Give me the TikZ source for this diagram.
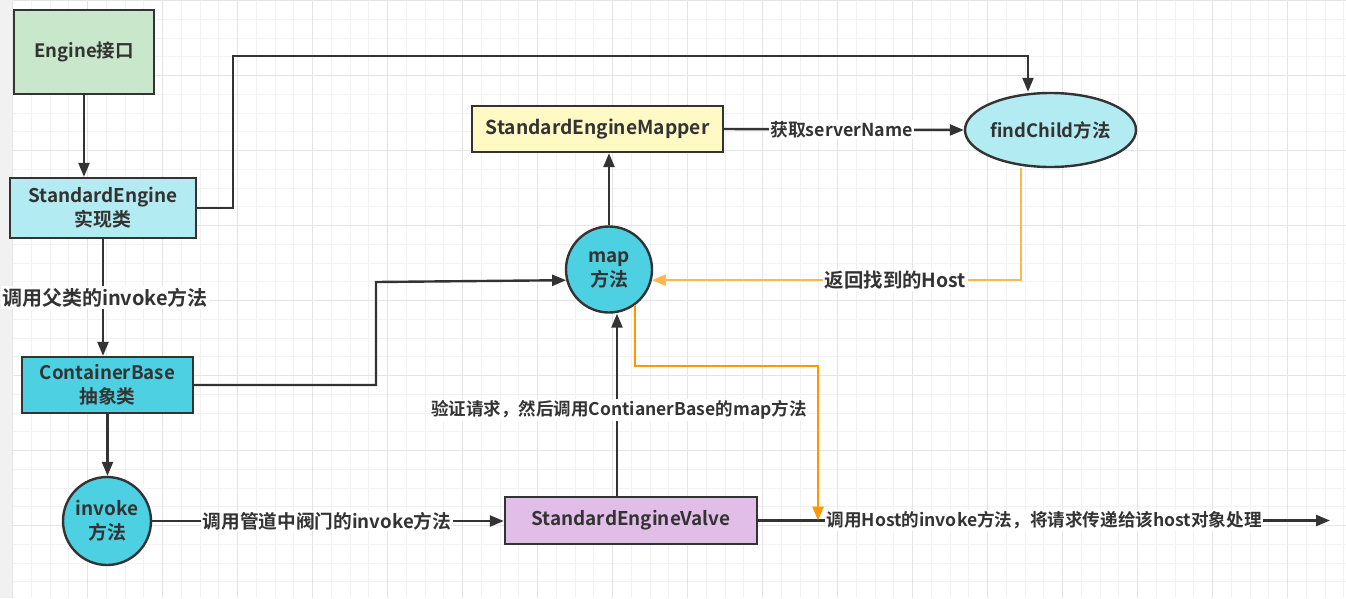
\documentclass[tikz,border=0pt]{standalone}
\usepackage{fontspec}
\setmainfont{Noto Sans CJK SC}[BoldFont={* Bold}]
\usetikzlibrary{arrows.meta,shapes.geometric}

\definecolor{ink}{HTML}{333333}
\definecolor{gridminor}{HTML}{F2F2F2}
\definecolor{gridmajor}{HTML}{E4E4E4}
\definecolor{gridstrip}{HTML}{F1F1F1}
\definecolor{engfill}{HTML}{C9E7CA}
\definecolor{lightcyan}{HTML}{B2EBF2}
\definecolor{darkcyan}{HTML}{4DD0E1}
\definecolor{valvefill}{HTML}{E1BEE7}
\definecolor{mapperfill}{HTML}{FFF9C4}
\definecolor{hostorange}{HTML}{FF9800}
\definecolor{backorange}{HTML}{FFB74D}

\newcommand\fsz[1]{\bfseries\fontsize{#1}{24}\selectfont}

\tikzset{
  box/.style={draw=ink, line width=2.4pt, text=ink, align=center, inner sep=0pt,
    font=\fsz{18.9}},
  roundbox/.style={box, circle, minimum size=88pt},
  link/.style={draw=ink, line width=2.4pt, -{Triangle[length=14pt,width=11pt]}},
  backlink/.style={link, draw=backorange, -{Triangle[length=14pt,width=11pt,fill=backorange]}},
  hostlink/.style={link, draw=hostorange, -{Triangle[length=14pt,width=11pt,fill=hostorange]}},
  lbl/.style={fill=white, text=ink, inner sep=1.5pt, font=\fsz{17.6}},
}

\begin{document}
\begin{tikzpicture}[x=1pt,y=1pt,yscale=-1,xscale=1]
\useasboundingbox (0,0) rectangle (1346,598);

%background grid
\fill[white] (0,0) rectangle (1346,598);
\fill[gridstrip] (0,0) rectangle (12.7,598);
\foreach \i in {0,...,71} {\draw[gridminor, line width=1pt] ({12.7+18.75*\i},0) -- ({12.7+18.75*\i},598);}
\foreach \j in {0,...,31} {\draw[gridminor, line width=1pt] (12.7,{0.5+18.75*\j}) -- (1346,{0.5+18.75*\j});}
\foreach \i in {0,...,17} {\draw[gridmajor, line width=1pt] ({12.7+75*\i},0) -- ({12.7+75*\i},598);}
\foreach \j in {0,...,7} {\draw[gridmajor, line width=1pt] (12.7,{0.5+75*\j}) -- (1346,{0.5+75*\j});}

%nodes
\node[box, fill=engfill, minimum width=140pt, minimum height=84pt, font=\fsz{18.5}] (engine) at (84,52) {Engine接口};
\node[box, fill=lightcyan, minimum width=186pt, minimum height=60pt] (stdengine) at (103,208) {StandardEngine\\实现类};
\node[box, fill=darkcyan, minimum width=171pt, minimum height=56pt, font=\fsz{18.7}] (contbase) at (107.5,385) {ContainerBase\\抽象类};
\node[roundbox, fill=darkcyan] (invoke) at (107,521) {invoke\\方法};
\node[box, fill=valvefill, minimum width=252pt, minimum height=47pt] (valve) at (631,520.5) {StandardEngineValve};
\node[roundbox, fill=darkcyan, minimum size=86pt] (map) at (609,269.5) {map\\方法};
\node[box, fill=mapperfill, minimum width=251pt, minimum height=46pt, font=\fsz{19.2}] (mapper) at (597.5,129) {StandardEngineMapper};
\node[box, ellipse, fill=lightcyan, minimum width=171pt, minimum height=74pt, font=\fsz{18.4}] (findchild) at (1050.5,130) {findChild方法};

\coordinate (childbend) at (233,56);
\coordinate (basebend) at (376,282);
\coordinate (hostbend) at (818,366);
\coordinate (hostout) at (1330,520.5);

%connectors
\draw[link] (engine.south) -- (engine.south |- stdengine.north);
\draw[link] (stdengine.south) -- (stdengine.south |- contbase.north)
  node[lbl, midway, xshift=2pt, font=\fsz{20}] {调用父类的invoke方法};
\draw[link] (contbase.south) -- (contbase.south |- invoke.north);
\draw[link] (invoke.east) -- (invoke.east -| valve.west)
  node[lbl, midway, xshift=-1pt, font=\fsz{18.7}] {调用管道中阀门的invoke方法};
\draw[link] ([xshift=-14pt]valve.north) -- ([xshift=-14pt]valve.north |- map.south)
  node[lbl, pos=0.47, xshift=2pt, font=\fsz{17.5}] {验证请求，然后调用ContianerBase的map方法};
\draw[link] (map.north) -- (map.north |- mapper.south);
\draw[link] (mapper.east) -- (findchild.west)
  node[lbl, midway, xshift=-2.5pt, font=\fsz{17.8}] {获取serverName};
\draw[link] (stdengine.east) -| (childbend) -| ([xshift=-22.5pt]findchild.north);
\draw[link] (contbase.east) -| (basebend) -- (map.194);
\draw[backlink] ([xshift=-29.5pt]findchild.south) |- (map.-14)
  node[lbl, pos=0.67, font=\fsz{19.4}] {返回找到的Host};
\draw[link] (valve.east) -- (hostout)
  node[lbl, midway] {调用Host的invoke方法，将请求传递给该host对象处理};
\draw[hostlink] (map.-54.5) |- (hostbend) -- (hostbend |- valve.east);
\end{tikzpicture}
\end{document}
